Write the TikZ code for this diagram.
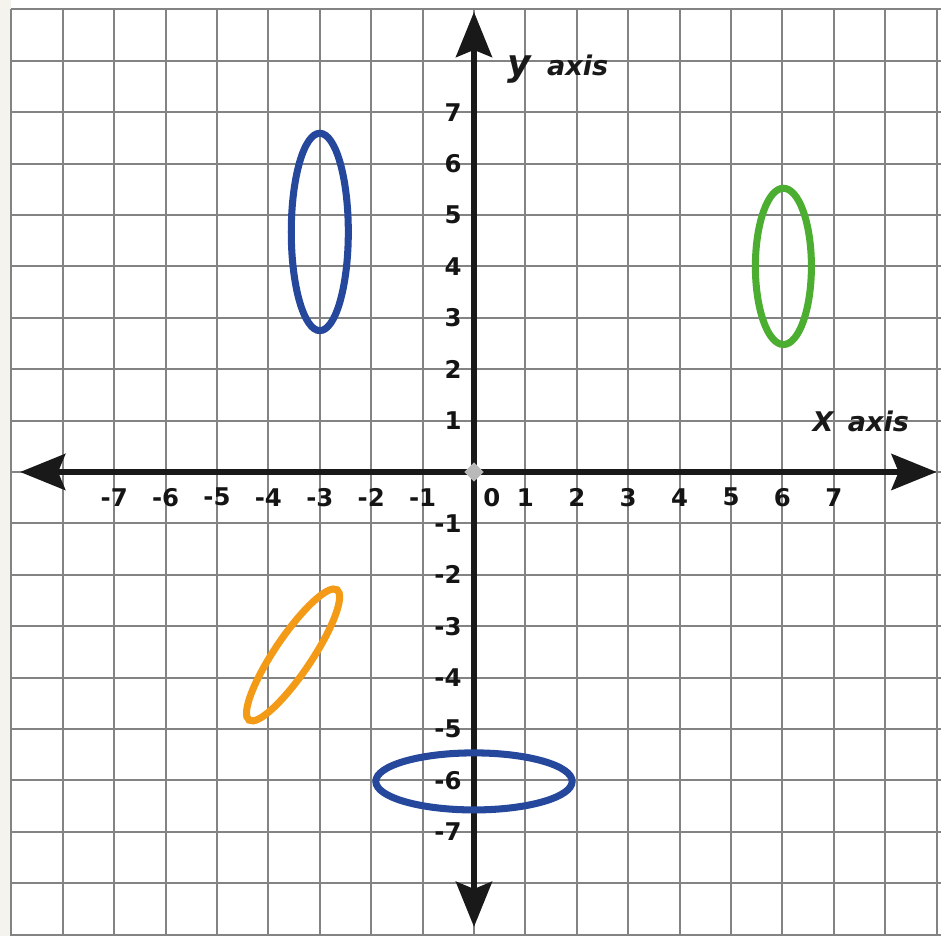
\documentclass[tikz,border=0pt]{standalone}
\usepackage{fontspec}
\setmainfont{DejaVu Sans}
\usetikzlibrary{arrows.meta,shapes.geometric}
\definecolor{ellblue}{HTML}{26489C}
\definecolor{ellgreen}{HTML}{4BAE31}
\definecolor{ellorange}{HTML}{F39A16}
\definecolor{gridgray}{HTML}{838383}
\definecolor{edgetint}{HTML}{F5F3EE}
\begin{document}
\begin{tikzpicture}[
  gridline/.style={draw=gridgray, line width=1.1pt},
  bigtip/.tip={Stealth[length=25pt,width=20pt,inset=4pt]},
  axisline/.style={draw=black!90, line width=2.8pt, bigtip-bigtip},
  ticklabel/.style={font=\fontsize{13.5}{13.5}\bfseries\selectfont, inner sep=1pt, text=black!92},
  axislabel/.style={font=\fontsize{15}{15}\bfseries\itshape\selectfont, inner sep=0pt, text=black!90},
  ringline/.style={line width=3.9pt}
]
\useasboundingbox (-9.222,-9.027) rectangle (9.086,9.183);
\clip (-9.222,-9.027) rectangle (9.086,9.183);
\fill[edgetint] (-9.222,-9.027) rectangle (-9,9.183);
% grid
\foreach \i in {-9,...,9} {
  \draw[gridline] (\i,-9.1) -- (\i,9);
  \draw[gridline] (-9,\i) -- (9.2,\i);
}
% axes
\coordinate (xleft) at (-8.83,0);
\coordinate (xright) at (9.0,0);
\coordinate (ybottom) at (0,-8.85);
\coordinate (ytop) at (0,8.95);
\draw[axisline] (xleft) -- (xright);
\draw[axisline] (ybottom) -- (ytop);
\node[diamond, fill=gray!55, inner sep=0pt, minimum size=0.38cm] (origin) at (0,0) {};
% tick labels
\foreach \v [count=\k] in {-7,-6,-5,-4,-3,-2,-1,1,2,3,4,5,6,7} {
  \node[ticklabel] (xlab\k) at (\v,-0.49) {\v};
  \node[ticklabel, anchor=east] (ylab\k) at (-0.2,\v) {\v};
}
\node[ticklabel] (zerolab) at (0.35,-0.49) {0};
% axis names
\node[axislabel, anchor=base west] (yname) at (0.64,7.72) {{\fontsize{20}{20}\selectfont y}\hspace{9pt}axis};
\node[axislabel, anchor=base west] (xname) at (6.58,0.78) {X\hspace{8pt}axis};
% ellipses
\coordinate (c1) at (-3,4.67);
\coordinate (c2) at (6.02,4.0);
\coordinate (c3) at (-3.52,-3.56);
\coordinate (c4) at (0,-6.02);
\draw[ringline, ellblue] (c1) ellipse [x radius=0.555, y radius=1.92];
\draw[ringline, ellgreen] (c2) ellipse [x radius=0.545, y radius=1.52];
\draw[ringline, ellorange, rotate around={56:(c3)}] (c3) ellipse [x radius=1.53, y radius=0.36];
\draw[ringline, ellblue] (c4) ellipse [x radius=1.91, y radius=0.555];
\end{tikzpicture}
\end{document}
